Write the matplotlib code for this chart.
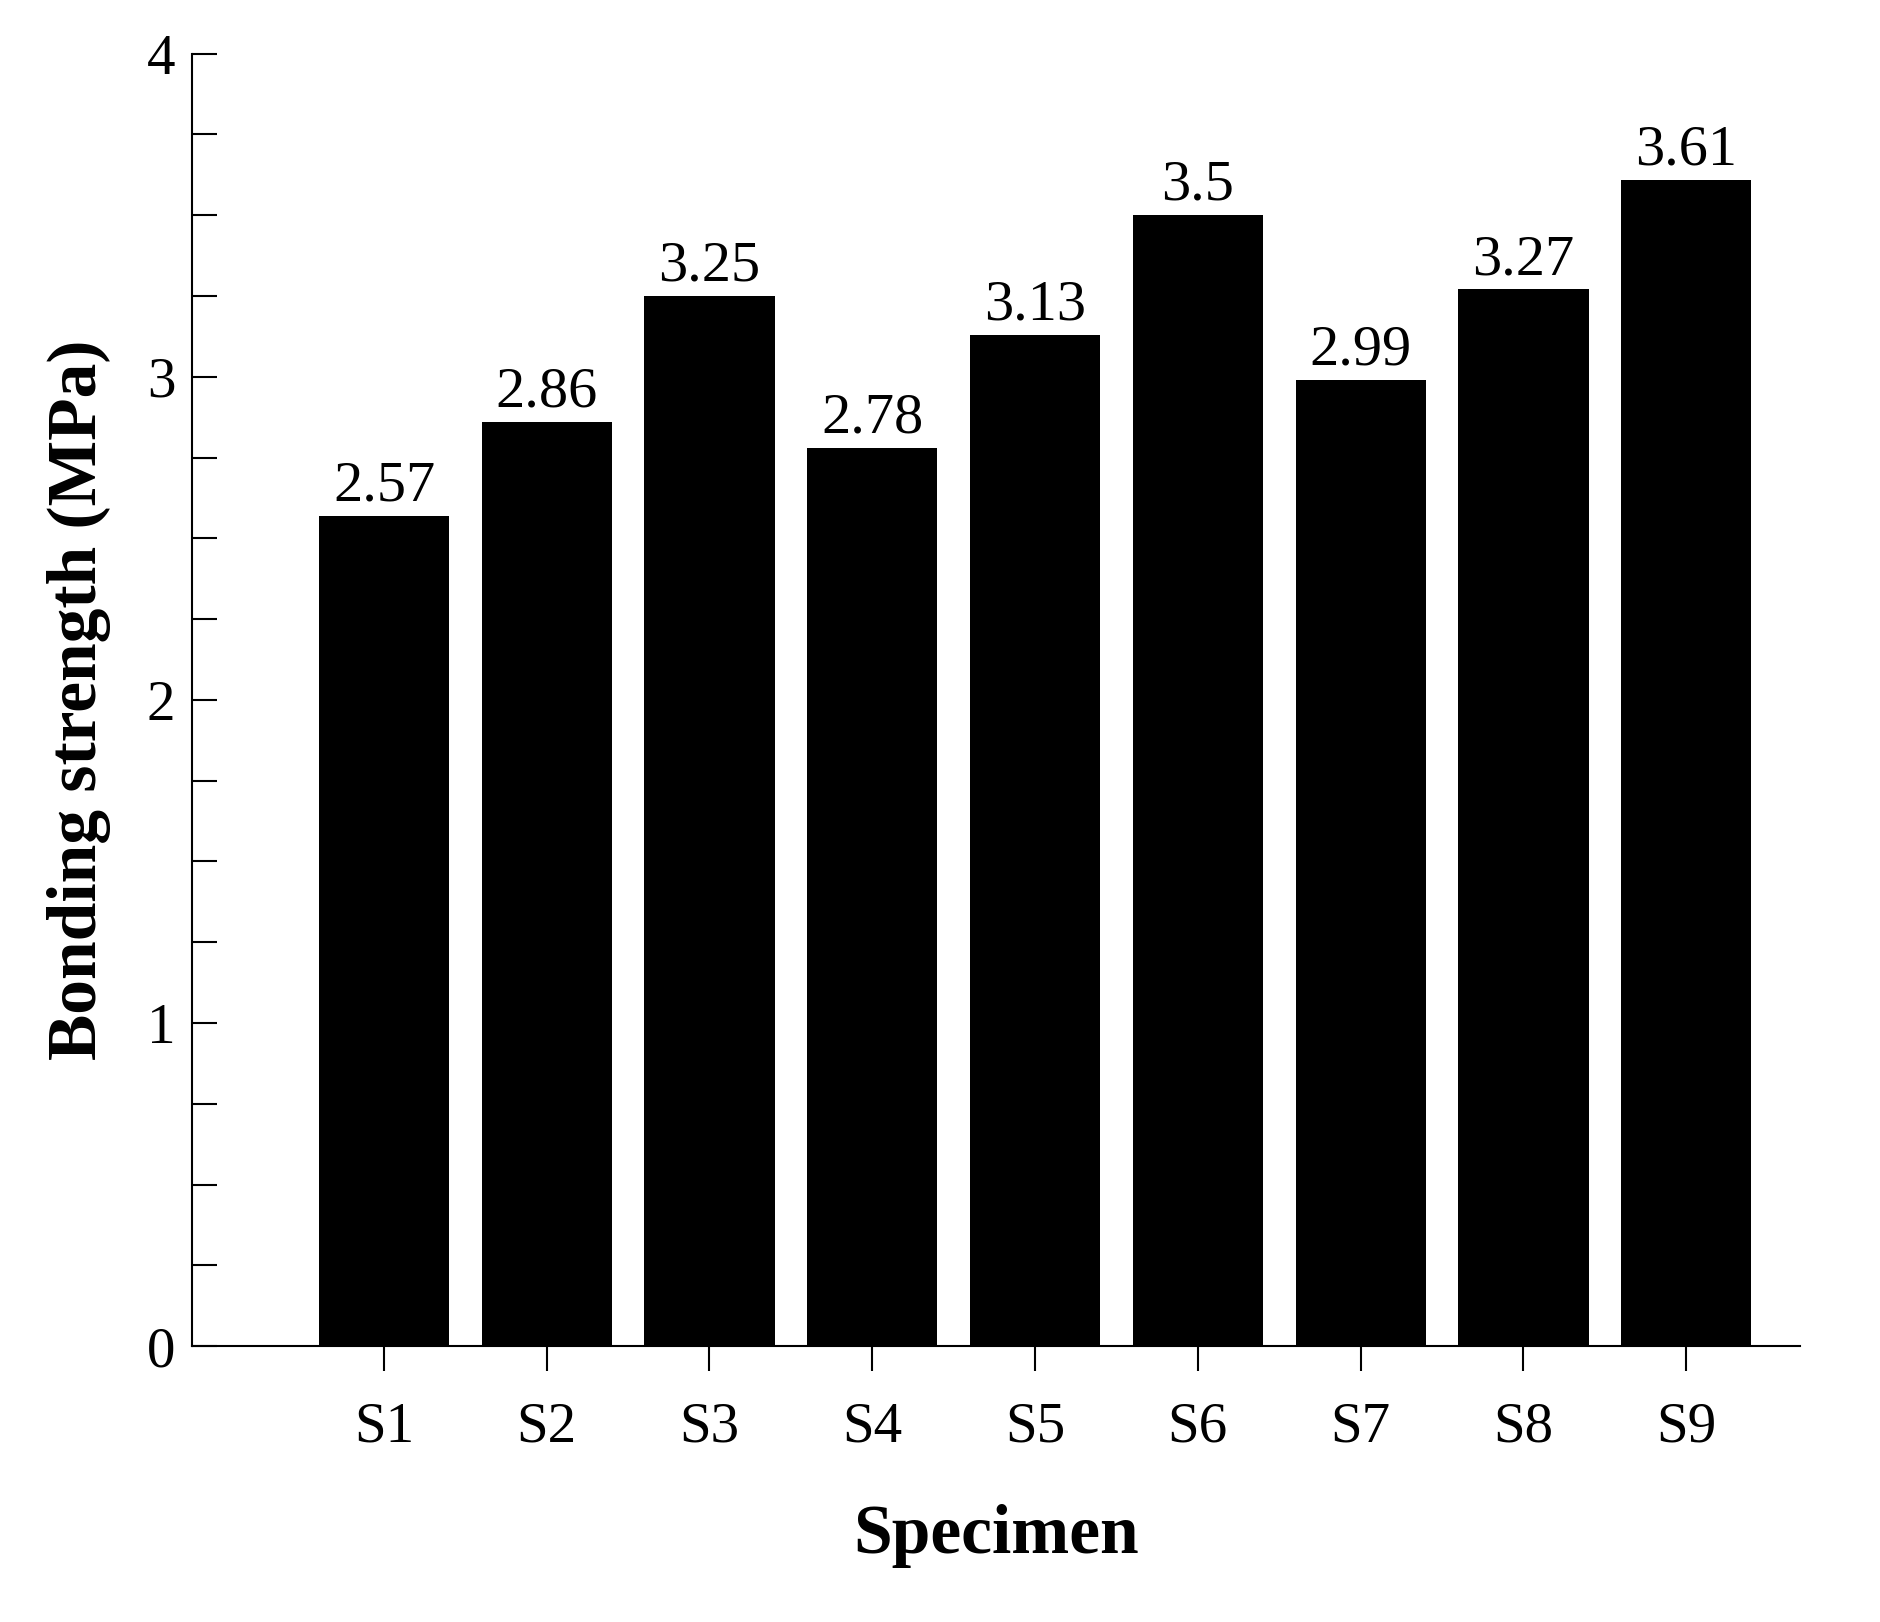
import matplotlib
matplotlib.use("Agg")
import matplotlib.pyplot as plt
import numpy as np

specimens = ["S1","S2","S3","S4","S5","S6","S7","S8","S9"]
strength = [2.57, 2.86, 3.25, 2.78, 3.13, 3.5, 2.99, 3.27, 3.61]

plt.rcParams['font.family'] = ['Liberation Serif', 'DejaVu Serif']
fig = plt.figure(figsize=(18.81, 16.22), dpi=100)
ax = fig.add_axes([0.102, 0.17, 0.855, 0.797])
x = np.arange(len(specimens))
ax.bar(x, strength, width=0.8, color='black')
for xi, v in zip(x, strength):
    ax.text(xi, v + 0.01, f"{v:g}", ha='center', va='bottom', fontsize=42)
ax.set_xlim(-1.18, 8.7)
ax.set_ylim(0, 4)
ax.set_xticks(x)
ax.set_xticklabels(specimens)
ax.set_yticks([0, 1, 2, 3, 4])
ax.set_yticks(np.arange(0, 4.01, 0.25), minor=True)
ax.tick_params(axis='y', which='both', direction='in', length=18, width=1.5, labelsize=41, pad=12)
ax.tick_params(axis='x', direction='out', length=18, width=1.5, labelsize=41, pad=22)
for s in ['top', 'right']:
    ax.spines[s].set_visible(False)
for s in ['left', 'bottom']:
    ax.spines[s].set_linewidth(1.5)
ax.set_xlabel("Specimen", fontsize=50, fontweight='bold', labelpad=36)
ax.set_ylabel("Bonding strength (MPa)", fontsize=50, fontweight='bold', labelpad=26)
fig.savefig("out.png", dpi=100)
